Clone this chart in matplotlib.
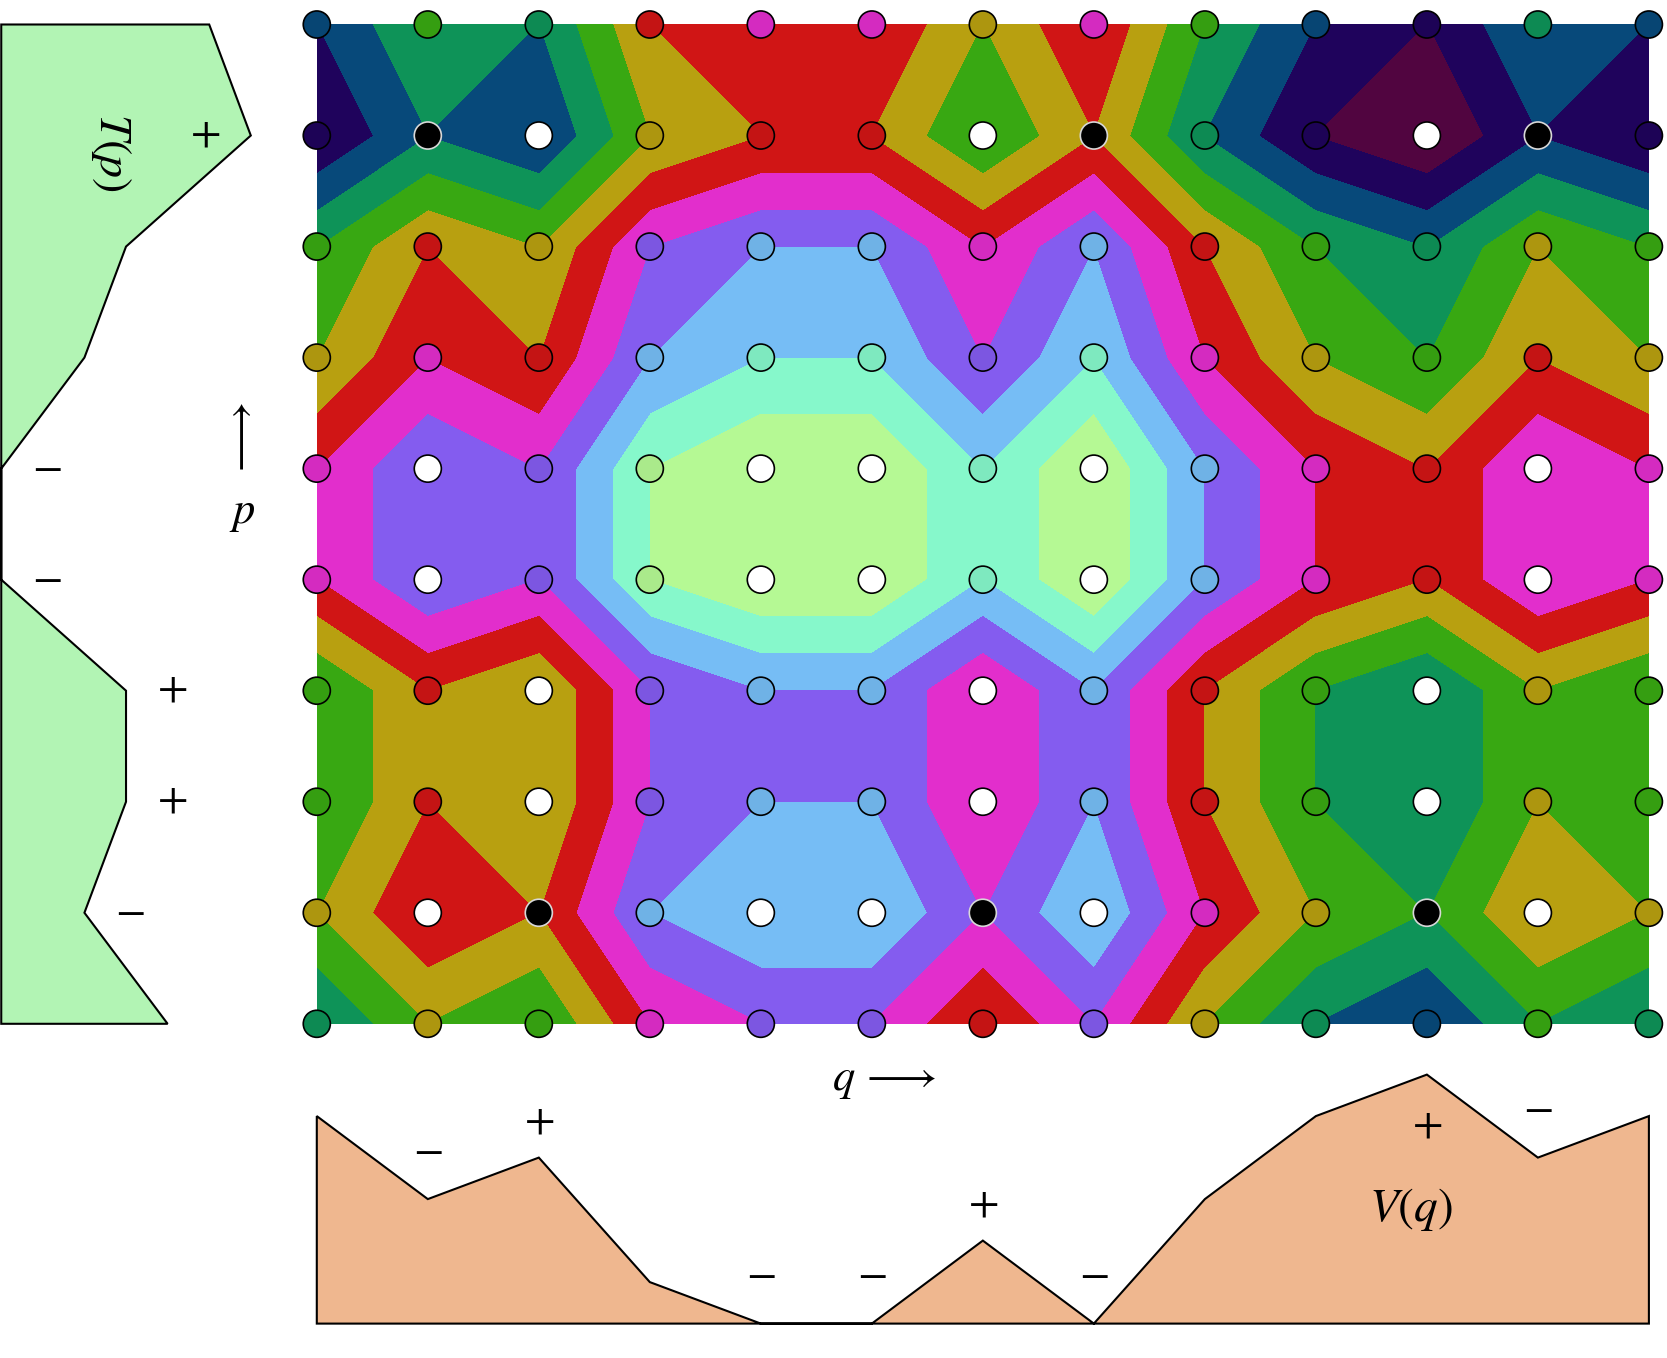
import numpy as np
import matplotlib.pyplot as plt
from matplotlib.colors import to_rgb

plt.rcParams['mathtext.fontset'] = 'stix'
plt.rcParams['font.family'] = 'STIXGeneral'

# grid and the two 1-d functions, H(q, p) = V(q) + T(p)
q = np.arange(13)
p = np.arange(10)
V = [5, 3, 4, 1, 0, 0, 2, 0, 3, 5, 6, 4, 5]
T = [4, 2, 3, 3, 0, 0, 2, 3, 6, 5]

# extremum marks shown next to the curves
v_signs = ['', '-', '+', '', '-', '-', '+', '-', '', '', '+', '-', '']
t_signs = ['', '-', '+', '+', '-', '-', '', '', '+', '']

# one colour per band [k, k+1) for k = 0..11
band_colors = ['#b5f994', '#86f8cb', '#76bdf5', '#845cef', '#e22ecc', '#d01515',
               '#b8a010', '#38a812', '#0e9358', '#07497a', '#1f035c', '#510540']

H = np.add.outer(T, V)
# bands closed at the bottom: a flat cell at level k takes band k
levels = np.arange(13) - 1e-6
levels[-1] = 12.5


def on_plateau(vals, signs, i):
    for j in (i - 1, i + 1):
        if 0 <= j < len(vals) and signs[j] == signs[i] and vals[j] == vals[i]:
            return True
    return False


fig = plt.figure(figsize=(16.67, 13.58), dpi=100)

# main contour panel
ax = fig.add_axes([0.19004, 0.24610, 0.79910, 0.73586])
ax.contourf(q, p, H, levels=levels, colors=band_colors)
ax.set_xlim(0, 12)
ax.set_ylim(0, 9)
ax.axis('off')

face, edge = [], []
for i in range(len(p)):
    for j in range(len(q)):
        sv, st = v_signs[j], t_signs[i]
        if sv and st and sv == st:
            face.append('white'); edge.append('black')
        elif sv and st and not on_plateau(V, v_signs, j) and not on_plateau(T, t_signs, i):
            face.append('black'); edge.append('#d8d8d8')
        else:
            c = np.array(to_rgb(band_colors[max(H[i, j] - 1, 0)])) * 0.94
            face.append(c); edge.append('black')
qq, pp = np.meshgrid(q, p)
ax.scatter(qq.ravel(), pp.ravel(), s=380, c=face, edgecolors=edge,
           linewidths=1.2, zorder=3, clip_on=False)

ax.text(5.11, -0.6, r'$q\,\longrightarrow$', fontsize=32, ha='center', va='baseline')
ax.text(-0.67, 5.26, r'$\longrightarrow$', fontsize=32, rotation=90,
        ha='center', va='center')
ax.text(-0.67, 4.51, r'$p$', fontsize=32, ha='center', va='baseline')

# potential V(q) along the bottom
axv = fig.add_axes([0.19004, 0.02533, 0.79910, 0.18336])
axv.fill(np.r_[q[0], q, q[-1]], np.r_[0, V, 0], facecolor='#efb78f',
         edgecolor='black', linewidth=1.5, clip_on=False)
axv.set_xlim(0, 12)
axv.set_ylim(0, 6)
axv.axis('off')
for j, s in enumerate(v_signs):
    if s:
        if V[j] == max(V):
            y = V[j] - 1.25
        else:
            y = V[j] + (1.15 if s == '-' else 0.85)
        axv.text(q[j], y, '$%s$' % s, fontsize=32, ha='center', va='center')
axv.text(9.86, 2.75, r'$V(q)$', fontsize=34, ha='center', va='center')

# kinetic T(p) along the left side
axt = fig.add_axes([0.0, 0.24610, 0.15045, 0.73586])
axt.fill(np.r_[0, T, 0], np.r_[p[0], p, p[-1]], facecolor='#b2f4b4',
         edgecolor='black', linewidth=1.5, clip_on=False)
axt.set_xlim(-0.03, 6)
axt.set_ylim(0, 9)
axt.axis('off')
for i, s in enumerate(t_signs):
    if s:
        x = T[i] + 1.1 if T[i] < max(T) else T[i] - 1.1
        axt.text(x, p[i], '$%s$' % s, fontsize=32, ha='center', va='center')
axt.text(2.64, 7.85, r'$T(p)$', fontsize=33, rotation=-90, ha='center', va='center')

fig.savefig('out.png', dpi=100)
